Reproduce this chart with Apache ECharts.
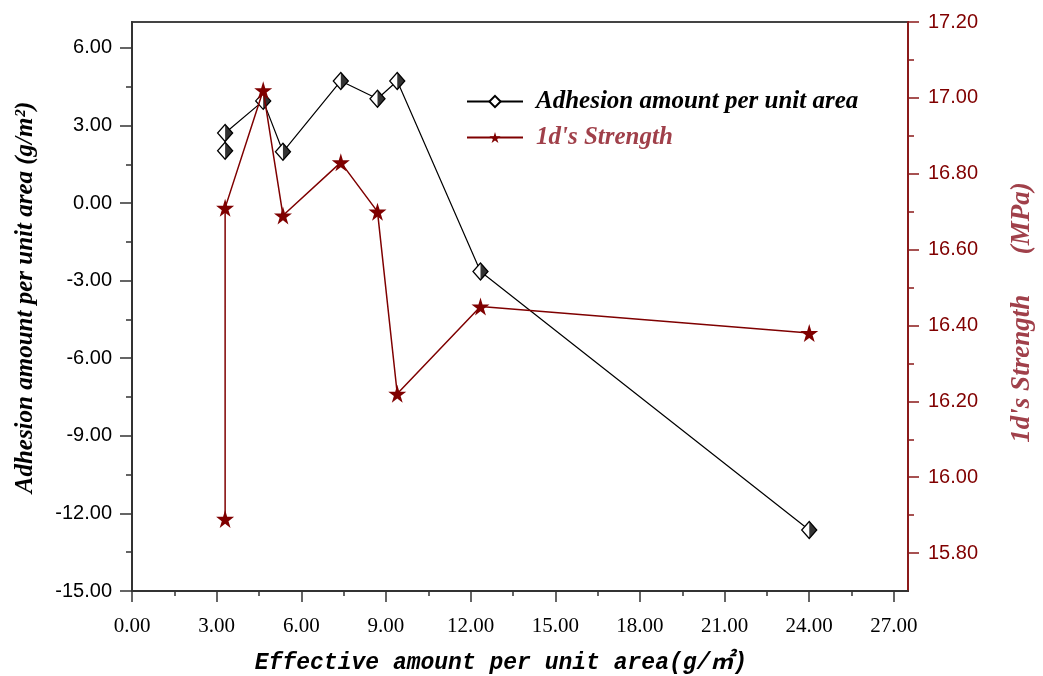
<!DOCTYPE html>
<html><head><meta charset="utf-8">
<script src="https://cdn.jsdelivr.net/npm/echarts@6/dist/echarts.min.js"></script>
<style>html,body{margin:0;padding:0;background:#fff}#c{width:1043px;height:676px}</style>
</head><body><div id="c"></div>
<script>
const adhesionX = [3.3, 3.3, 4.65, 5.35, 7.4, 8.7, 9.4, 12.35, 24.0];
const adhesionY = [2.02, 2.71, 3.95, 1.98, 4.72, 4.03, 4.72, -2.65, -12.64];
const strengthX = [3.3, 3.3, 4.65, 5.35, 7.4, 8.7, 9.4, 12.35, 24.0];
const strengthY = [15.89, 16.71, 17.02, 16.69, 16.83, 16.70, 16.22, 16.45, 16.38];
const xTicks = [0, 3, 6, 9, 12, 15, 18, 21, 24, 27];
const xMinorTicks = [1.5, 4.5, 7.5, 10.5, 13.5, 16.5, 19.5, 22.5, 25.5];
const leftTicks = [-15, -12, -9, -6, -3, 0, 3, 6];
const leftMinorTicks = [-13.5, -10.5, -7.5, -4.5, -1.5, 1.5, 4.5];
const rightTicks = [15.8, 16.0, 16.2, 16.4, 16.6, 16.8, 17.0, 17.2];
const rightMinorTicks = [15.9, 16.1, 16.3, 16.5, 16.7, 16.9, 17.1];
const seriesNames = ['Adhesion amount per unit area', "1d's Strength"];
const xTitle = 'Effective amount per unit area(g/㎡)';
const leftTitle = 'Adhesion amount per unit area (g/m²)';
const rightTitle = "1d's Strength      (MPa)";

const RED = '#7f0000';
const AXIS_RED = '#8b1a1a';
const TITLE_RED = '#a0404a';
const STAR = 'path://M50,0 L61,35 L98,35 L68,57 L79,91 L50,70 L21,91 L32,57 L2,35 L39,35 Z';
const zip = (a, b) => a.map((v, i) => [v, b[i]]);
const rect = { left: 132, right: 135, top: 22, bottom: 85, containLabel: false, outerBoundsMode: 'none' };
const serifTitle = { fontFamily: 'Liberation Serif', fontStyle: 'italic', fontWeight: 'bold', fontSize: 25 };

const chart = echarts.init(document.getElementById('c'));
chart.setOption({
  animation: false,
  backgroundColor: '#fff',
  grid: [
    Object.assign({ show: true, borderColor: '#444', borderWidth: 2, backgroundColor: 'transparent' }, rect),
    Object.assign({ show: false }, rect)
  ],
  legend: {
    orient: 'vertical', left: 466, top: 89, padding: 0, itemWidth: 56, itemHeight: 14, itemGap: 11,
    data: [
      { name: seriesNames[0], textStyle: { color: '#000' } },
      { name: seriesNames[1], textStyle: { color: TITLE_RED } }
    ],
    textStyle: Object.assign({ padding: [0, 0, 0, 8] }, serifTitle)
  },
  xAxis: [
    {
      type: 'value', gridIndex: 0, min: 0, max: 27.5, position: 'bottom',
      axisLine: { onZero: false, lineStyle: { color: '#333', width: 2 } },
      axisTick: { customValues: xTicks, length: 11, lineStyle: { color: '#333', width: 1.5 } },
      axisLabel: { customValues: xTicks, formatter: v => v.toFixed(2), fontFamily: 'Liberation Serif', fontSize: 21, color: '#000', margin: 25 },
      splitLine: { show: false },
      name: xTitle, nameLocation: 'middle', nameGap: 61,
      nameTextStyle: { fontFamily: "'Liberation Mono', 'Noto Sans CJK SC'", fontStyle: 'italic', fontWeight: 'bold', fontSize: 23, color: '#000', padding: [0, 38, 0, 0] }
    },
    {
      type: 'value', gridIndex: 1, min: 0, max: 27.5, position: 'bottom',
      axisLine: { show: false, onZero: false },
      axisTick: { customValues: xMinorTicks, length: 5, lineStyle: { color: '#333', width: 1.5 } },
      axisLabel: { show: false }, splitLine: { show: false }
    }
  ],
  yAxis: [
    {
      type: 'value', gridIndex: 0, min: -15, max: 7, position: 'left',
      axisLine: { show: true, onZero: false, lineStyle: { color: '#333', width: 2 } },
      axisTick: { show: true, customValues: leftTicks, length: 12, lineStyle: { color: '#333', width: 1.5 } },
      axisLabel: { customValues: leftTicks, formatter: v => v.toFixed(2), fontFamily: 'Liberation Sans', fontSize: 20, color: '#000', margin: 20 },
      splitLine: { show: false },
      name: leftTitle, nameLocation: 'middle', nameRotate: 90, nameGap: 94,
      nameTextStyle: Object.assign({ color: '#000', padding: [0, 0, 0, 18] }, serifTitle)
    },
    {
      type: 'value', gridIndex: 0, min: 15.7, max: 17.2, position: 'right',
      axisLine: { show: true, onZero: false, lineStyle: { color: AXIS_RED, width: 2 } },
      axisTick: { show: true, customValues: rightTicks, length: 11, lineStyle: { color: AXIS_RED, width: 1.5 } },
      axisLabel: { customValues: rightTicks, formatter: v => v.toFixed(2), fontFamily: 'Liberation Sans', fontSize: 20, color: '#800000', margin: 20 },
      splitLine: { show: false },
      name: rightTitle, nameLocation: 'middle', nameRotate: 90, nameGap: 101,
      nameTextStyle: Object.assign({}, serifTitle, { color: TITLE_RED, fontSize: 27, padding: [0, 12, 0, 0] })
    },
    {
      type: 'value', gridIndex: 1, min: -15, max: 7, position: 'left',
      axisLine: { show: false, onZero: false },
      axisTick: { show: true, customValues: leftMinorTicks, length: 6, lineStyle: { color: '#333', width: 1.5 } },
      axisLabel: { show: false }, splitLine: { show: false }
    },
    {
      type: 'value', gridIndex: 1, min: 15.7, max: 17.2, position: 'right',
      axisLine: { show: false, onZero: false },
      axisTick: { show: true, customValues: rightMinorTicks, length: 6, lineStyle: { color: AXIS_RED, width: 1.5 } },
      axisLabel: { show: false }, splitLine: { show: false }
    }
  ],
  series: [
    {
      name: seriesNames[0], type: 'line', xAxisIndex: 0, yAxisIndex: 0,
      data: zip(adhesionX, adhesionY),
      symbol: 'diamond', symbolSize: [15, 17],
      itemStyle: { color: '#fff', borderColor: '#000', borderWidth: 1.3 },
      lineStyle: { color: '#000', width: 1.2 }, z: 3
    },
    {
      name: 'half', type: 'scatter', xAxisIndex: 0, yAxisIndex: 0,
      data: zip(adhesionX, adhesionY),
      symbol: 'path://M0,0 L10,10 L0,20 Z', symbolSize: [7.5, 17], symbolOffset: [3.75, 0],
      itemStyle: { color: '#000' }, z: 4, silent: true
    },
    {
      name: seriesNames[1], type: 'line', xAxisIndex: 0, yAxisIndex: 1,
      data: zip(strengthX, strengthY),
      symbol: STAR, symbolSize: 18,
      itemStyle: { color: RED },
      lineStyle: { color: RED, width: 1.5 }, z: 5
    }
  ]
});
</script>
</body></html>
